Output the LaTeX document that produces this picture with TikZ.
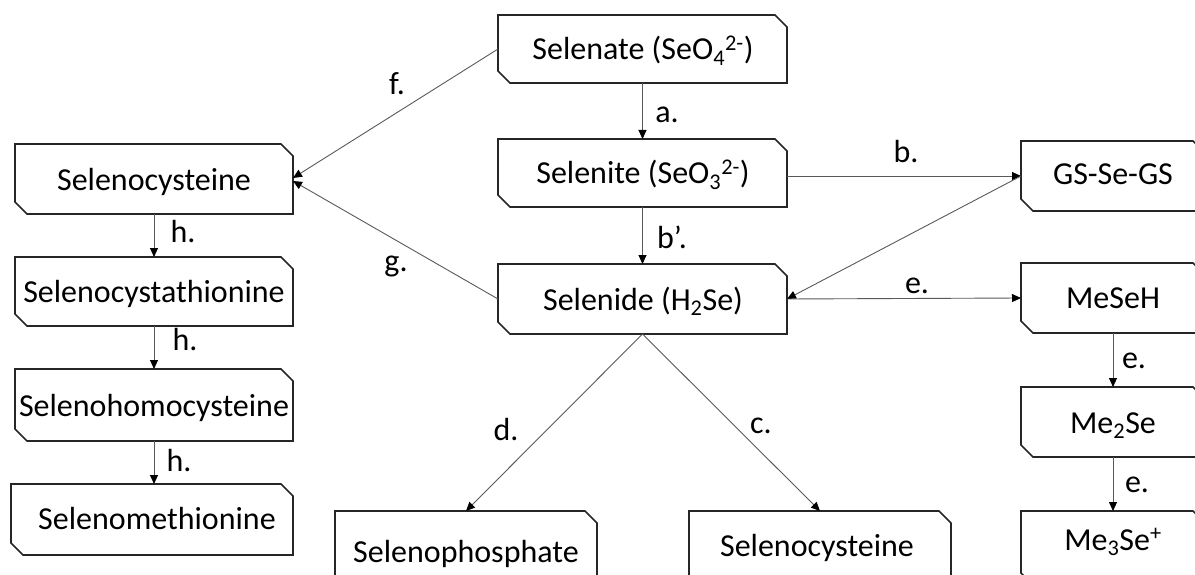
\documentclass[tikz,border=0pt]{standalone}
\usepackage{fontspec}
\setmainfont{Carlito}
\usetikzlibrary{arrows.meta}
\newlength\cutlen
\setlength\cutlen{12pt}
\tikzset{
  boxarea/.style={rectangle, inner sep=0pt, outer sep=0pt},
  boxline/.style={draw=black!85, line width=1.6pt, line join=miter},
  boxtext/.style={inner sep=0pt, font=\fontsize{32}{38}\selectfont},
  lbl/.style={inner sep=0pt, anchor=base, font=\fontsize{32}{38}\selectfont},
  conn/.style={draw=black!65, line width=0.9pt, -{Triangle[length=9pt,width=8pt,fill=black,color=black]}},
}
% name, x1, y1, x2, y2, text x, text baseline y, text
\newcommand\snipbox[8]{%
  \node[boxarea, minimum width={#4-#2}, minimum height={#5-#3}] (#1) at ({(#2+#4)/2},{(#3+#5)/2}) {};
  \draw[boxline] ([xshift=-\cutlen]#1.north east) -- ([yshift=-\cutlen]#1.north east) -- (#1.south east) -- ([xshift=\cutlen]#1.south west) -- ([yshift=\cutlen]#1.south west) -- (#1.north west) -- cycle;
  \node[boxtext, anchor=base] (#1-t) at (#6,#7) {#8};
}
\begin{document}
\begin{tikzpicture}[x=1pt,y=-1pt]
\useasboundingbox (0,0) rectangle (1195,575);
% centre column
\snipbox{selenate}{498}{15}{787}{83}{643}{60}{Selenate (SeO\textsubscript{4}\textsuperscript{2-})}
\snipbox{selenite}{498}{139}{787}{207}{643}{184}{Selenite (SeO\textsubscript{3}\textsuperscript{2-})}
\snipbox{selenide}{498}{264}{787}{334}{643}{310}{Selenide (H\textsubscript{2}Se)}
% right column
\snipbox{gs}{1021}{141}{1205}{211}{1113}{185}{GS-Se-GS}
\snipbox{meseh}{1021}{263}{1205}{333}{1113}{308}{MeSeH}
\snipbox{me2}{1021}{387}{1205}{457}{1113}{433}{Me\textsubscript{2}Se}
\snipbox{me3}{1021}{511}{1205}{585}{1113}{550}{Me\textsubscript{3}Se\textsuperscript{+}}
% left column
\snipbox{cysL}{15}{144}{293}{214}{154}{190}{Selenocysteine}
\snipbox{cystat}{15}{257}{293}{326}{154}{302}{Selenocystathionine}
\snipbox{homo}{15}{369}{293}{441}{154}{416}{Selenohomocysteine}
\snipbox{met}{11}{484}{293}{555}{157}{529}{Selenomethionine}
% bottom
\snipbox{phos}{335}{511}{597}{590}{466}{562}{Selenophosphate}
\snipbox{cysB}{689}{511}{951}{590}{817}{556}{Selenocysteine}
% connectors
\draw[conn] (selenate.south) -- (selenite.north);
\draw[conn] (selenite.south) -- (selenide.north);
\draw[conn] ([yshift=-3pt]selenite.east) -- (gs.west);
\draw[conn] (gs.west) -- (selenide.east);
\draw[conn] (selenide.east) -- (meseh.west);
\draw[conn] (selenate.west) -- ([yshift=1pt]cysL.east);
\draw[conn] (selenide.west) -- ([yshift=-2pt]cysL.east);
\draw[conn] (selenide.south) -- (phos.north);
\draw[conn] (selenide.south) -- (cysB.north);
\draw[conn] (cysL.south) -- (cystat.north);
\draw[conn] (cystat.south) -- (homo.north);
\draw[conn] (homo.south) -- (homo.south |- met.north);
\draw[conn] (meseh.south) -- (me2.north);
\draw[conn] (me2.south) -- (me3.north);
% labels
\node[lbl] (la) at (667,123) {a.};
\node[lbl] (lbp) at (672,248) {b’.};
\node[lbl] (lb) at (906,163) {b.};
\node[lbl] (le1) at (917,293) {e.};
\node[lbl] (lf) at (397,95) {f.};
\node[lbl] (lg) at (396,271) {g.};
\node[lbl] (ld) at (506,440) {d.};
\node[lbl] (lc) at (761,433) {c.};
\node[lbl] (lh1) at (183,243) {h.};
\node[lbl] (lh2) at (185,350) {h.};
\node[lbl] (lh3) at (179,471) {h.};
\node[lbl] (le2) at (1134,368) {e.};
\node[lbl] (le3) at (1137,492) {e.};
\end{tikzpicture}
\end{document}
